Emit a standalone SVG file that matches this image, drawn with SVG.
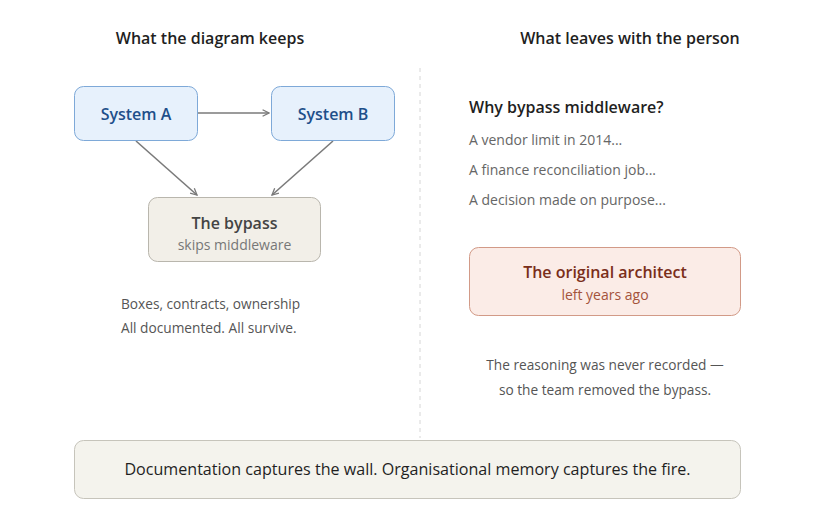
<svg xmlns="http://www.w3.org/2000/svg" width="840" height="508" viewBox="0 0 840 508">
<defs>
<style>
text{font-family:"Open Sans","Noto Sans","Liberation Sans",sans-serif}
.h{font-size:16px;font-weight:600;fill:#1f1f1f;text-anchor:middle}
.sys rect{fill:#e7f1fc;stroke:#7ea9d8;stroke-width:1}
.sys text{font-size:16px;font-weight:600;fill:#1e4f8a;text-anchor:middle}
.muted{font-size:13.7px;fill:#555}
.li{font-size:14px;fill:#666}
.conn line{stroke:#7a7a7a;stroke-width:1.6;fill:none}
</style>
<marker id="ah" viewBox="0 0 10 10" refX="9" refY="5" markerWidth="8" markerHeight="8" markerUnits="userSpaceOnUse" orient="auto">
<path d="M1,1 L9,5 L1,9" fill="none" stroke="#7a7a7a" stroke-width="1.6"/>
</marker>
</defs>
<rect width="840" height="508" fill="#ffffff"/>

<text class="h" x="210" y="44">What the diagram keeps</text>
<text class="h" x="630" y="44">What leaves with the person</text>

<line x1="420" y1="68" x2="420" y2="438" stroke="#d6d6d6" stroke-width="1" stroke-dasharray="4 4"/>

<g class="conn">
<line x1="198" y1="113" x2="269" y2="113" marker-end="url(#ah)"/>
<line x1="136" y1="141" x2="197" y2="195" marker-end="url(#ah)"/>
<line x1="333" y1="141" x2="272" y2="195" marker-end="url(#ah)"/>
</g>

<g id="system-a" class="sys">
<rect x="74.5" y="86.5" width="123" height="54" rx="9"/>
<text x="136" y="120">System A</text>
</g>
<g id="system-b" class="sys">
<rect x="271.5" y="86.5" width="123" height="54" rx="9"/>
<text x="333" y="120">System B</text>
</g>
<g id="bypass">
<rect x="148.5" y="197.5" width="172" height="64" rx="9" fill="#f2efe8" stroke="#b9b6ad"/>
<text x="234.5" y="229" font-size="16" font-weight="600" fill="#444" text-anchor="middle">The bypass</text>
<text x="234.5" y="250" font-size="14" fill="#777" text-anchor="middle">skips middleware</text>
</g>

<g id="left-note">
<text class="muted" x="121" y="309">Boxes, contracts, ownership</text>
<text class="muted" x="121" y="333">All documented. All survive.</text>
</g>

<g id="why">
<text x="469" y="113" font-size="16" font-weight="600" fill="#1f1f1f">Why bypass middleware?</text>
<text class="li" x="469" y="145">A vendor limit in 2014...</text>
<text class="li" x="469" y="175">A finance reconciliation job...</text>
<text class="li" x="469" y="205">A decision made on purpose...</text>
</g>

<g id="architect">
<rect x="469.5" y="247.5" width="271" height="68" rx="9" fill="#fbece7" stroke="#d29a87"/>
<text x="605" y="278" font-size="16" font-weight="600" fill="#7a2e1a" text-anchor="middle">The original architect</text>
<text x="605" y="300" font-size="14" fill="#a4533c" text-anchor="middle">left years ago</text>
</g>

<g id="right-note">
<text class="muted" x="605" y="370" text-anchor="middle">The reasoning was never recorded —</text>
<text class="muted" x="605" y="395" text-anchor="middle">so the team removed the bypass.</text>
</g>

<g id="summary">
<rect x="74.5" y="440.5" width="666" height="58" rx="9" fill="#f4f3ed" stroke="#c6c4bb"/>
<text x="407.5" y="475" font-size="16.1" fill="#1f1f1f" text-anchor="middle">Documentation captures the wall. Organisational memory captures the fire.</text>
</g>
</svg>
